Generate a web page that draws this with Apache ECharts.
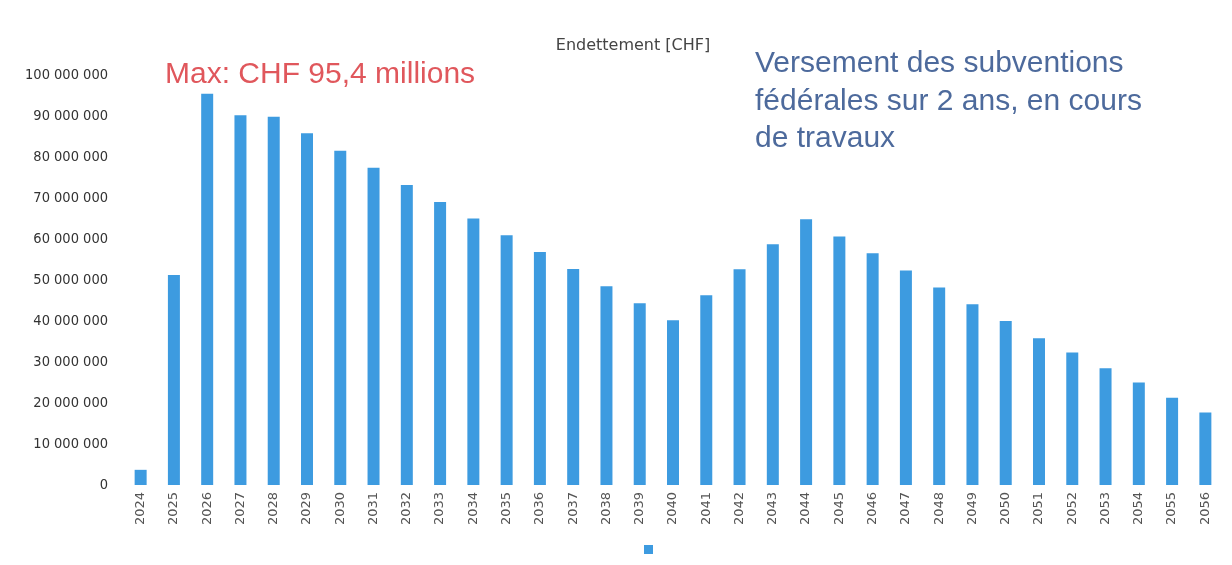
<!DOCTYPE html>
<html>
<head>
<meta charset="utf-8">
<script src="https://cdn.jsdelivr.net/npm/echarts@6/dist/echarts.min.js"></script>
<style>html,body{margin:0;padding:0;background:#fff}#c{width:1232px;height:565px}</style>
</head>
<body>
<div id="c"></div>
<script>
const years = ['2024','2025','2026','2027','2028','2029','2030','2031','2032','2033','2034','2035','2036','2037','2038','2039','2040','2041','2042','2043','2044','2045','2046','2047','2048','2049','2050','2051','2052','2053','2054','2055','2056'];
const debtMillions = [3.7,51.2,95.4,90.2,89.8,85.8,81.5,77.4,73.2,69.0,65.0,60.9,56.8,52.7,48.5,44.3,40.2,46.3,52.6,58.7,64.8,60.6,56.5,52.3,48.2,44.1,40.0,35.8,32.3,28.5,25.0,21.3,17.7];
const debt = debtMillions.map(v => Math.round(v * 1000000));
const seriesName = 'Endettement [CHF]';
const maxNote = 'Max: CHF 95,4 millions';
const subsidyNote = 'Versement des subventions\nfédérales sur 2 ans, en cours\nde travaux';

const chart = echarts.init(document.getElementById('c'), null, {renderer:'canvas'});
chart.setOption({
  animation: false,
  backgroundColor: '#fff',
  title: {
    text: seriesName, left: 628, top: 33, textAlign: 'center',
    textStyle: {fontFamily: 'DejaVu Sans', fontSize: 16, fontWeight: 'normal', color: '#444'}
  },
  legend: {
    left: 639, top: 540, itemWidth: 9, itemHeight: 9, icon: 'rect',
    formatter: () => '', data: [seriesName]
  },
  grid: {left: 124, right: 10, top: 75, bottom: 80, containLabel: false},
  xAxis: {
    type: 'category', data: years,
    axisLine: {show: false}, axisTick: {show: false},
    axisLabel: {rotate: 90, interval: 0, margin: 7, fontFamily: 'DejaVu Sans', fontSize: 13, color: '#555'}
  },
  yAxis: {
    type: 'value', min: 0, max: 100000000, interval: 10000000,
    splitLine: {show: false}, axisLine: {show: false}, axisTick: {show: false},
    axisLabel: {
      margin: 16, fontFamily: 'DejaVu Sans Condensed', fontSize: 14.5, color: '#333',
      formatter: v => String(v).replace(/\B(?=(\d{3})+(?!\d))/g, ' ')
    }
  },
  series: [{
    name: seriesName, type: 'bar', data: debt, barWidth: 12,
    itemStyle: {color: '#3d9be0'}
  }],
  graphic: [
    {type: 'text', left: 165, top: 60, style: {text: maxNote, fontFamily: 'Liberation Sans', fontSize: 30, fill: '#e0575c'}},
    {type: 'text', left: 755, top: 45, style: {text: subsidyNote, fontFamily: 'Liberation Sans', fontSize: 30, lineHeight: 37.5, fill: '#4d6a9c'}}
  ]
});
</script>
</body>
</html>
